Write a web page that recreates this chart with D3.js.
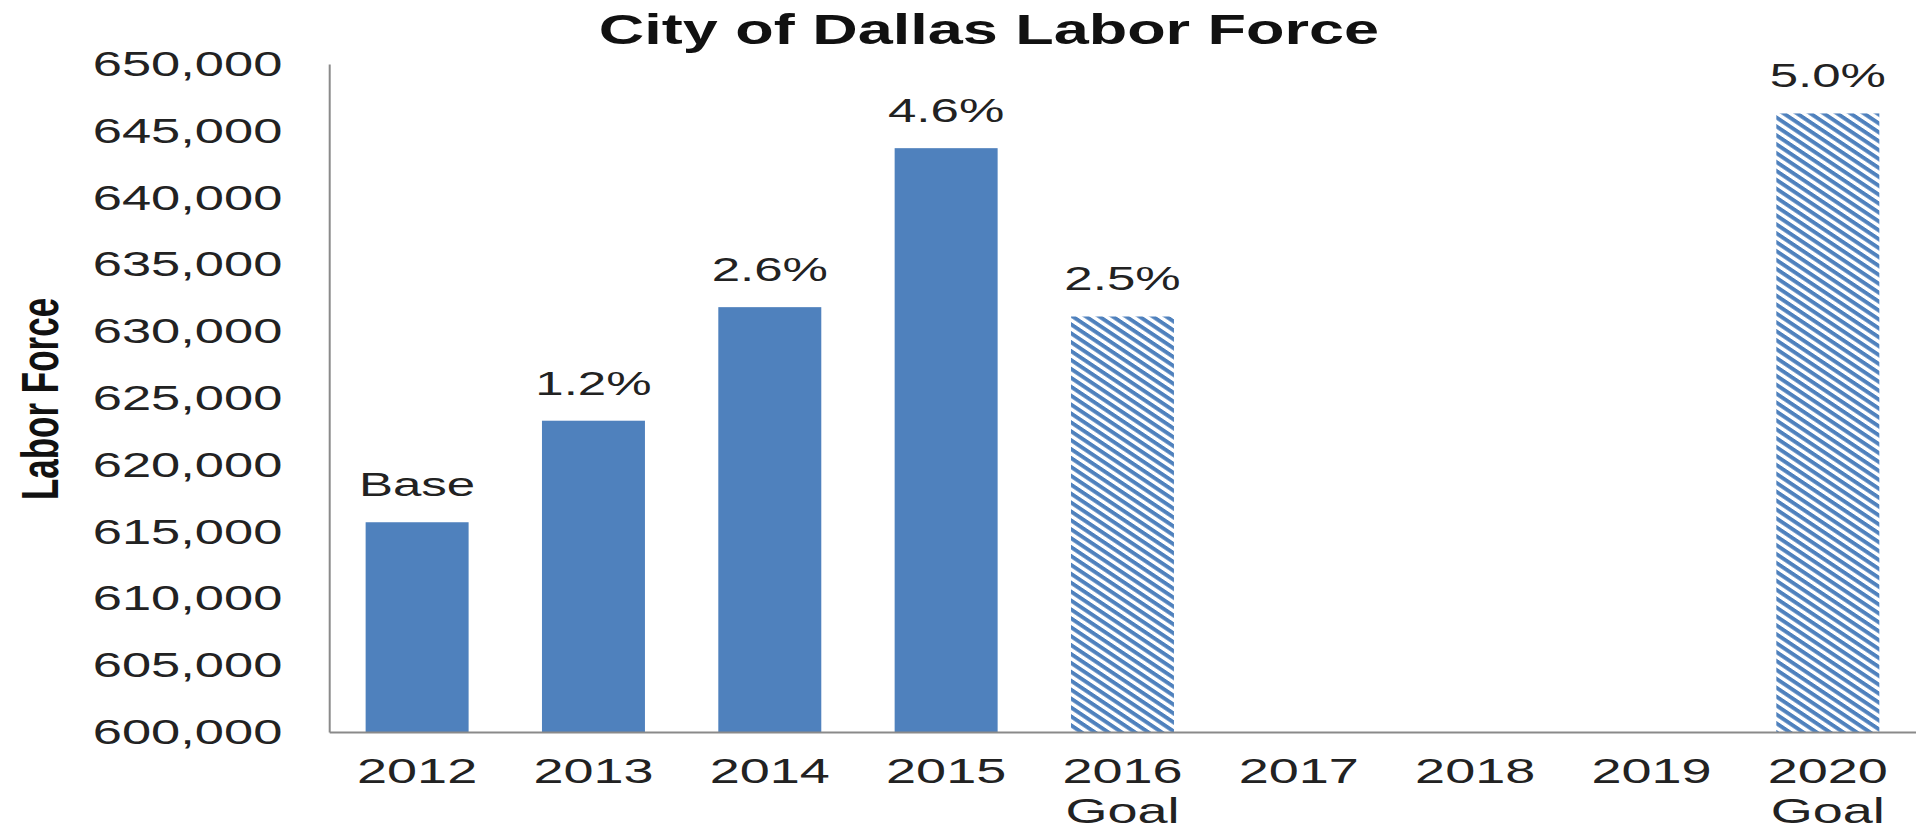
<!DOCTYPE html>
<html>
<head>
<meta charset="utf-8">
<title>City of Dallas Labor Force</title>
<script src="https://cdn.jsdelivr.net/npm/d3@7"></script>
<style>
  html, body { margin: 0; padding: 0; background: #fff; }
  svg { display: block; }
  text { font-family: 'Liberation Sans', Arial, sans-serif; fill: #222; }
</style>
</head>
<body>
<div id="chart"></div>
<script>
// chart data
const years = ['2012', '2013', '2014', '2015', '2016', '2017', '2018', '2019', '2020'];
const yearNotes = ['', '', '', '', 'Goal', '', '', '', 'Goal'];
const actualForce = [615700, 623300, 631800, 643700, null, null, null, null, null];
const goalForce = [null, null, null, null, 631100, null, null, null, 646300];
const changeLabels = ['Base', '1.2%', '2.6%', '4.6%', '2.5%', '', '', '', '5.0%'];
const yDomain = [600000, 650000];

const pageWidth = 1916;
const pageHeight = 827;
// the original picture is stretched sideways, so draw in a narrower space and stretch it
const stretch = 1.5;
const width = pageWidth / stretch;

const margin = { top: 64, right: 0, bottom: 95, left: 219.3 };
const plotBottom = pageHeight - margin.bottom;

const svg = d3.select('#chart')
  .append('svg')
  .attr('width', pageWidth)
  .attr('height', pageHeight)
  .attr('viewBox', `0 0 ${width} ${pageHeight}`)
  .attr('preserveAspectRatio', 'none');

// hatch for the goal bars
svg.append('defs')
  .append('pattern')
  .attr('id', 'goalHatch')
  .attr('patternUnits', 'userSpaceOnUse')
  .attr('width', 6.3)
  .attr('height', 6.3)
  .attr('patternTransform', 'rotate(45)')
  .call(p => {
    p.append('rect').attr('width', 6.3).attr('height', 6.3).attr('fill', '#fff');
    p.append('rect').attr('width', 6.3).attr('height', 3.3).attr('fill', '#4F81BD');
  });

const x = d3.scaleBand()
  .domain(years)
  .range([margin.left, width - margin.right])
  .paddingInner(0.416)
  .paddingOuter(0.208);

const y = d3.scaleLinear()
  .domain(yDomain)
  .range([plotBottom, margin.top]);

const rows = years.map((yr, i) => ({
  year: yr,
  note: yearNotes[i],
  actual: actualForce[i],
  goal: goalForce[i],
  label: changeLabels[i]
}));

// solid bars
svg.selectAll('.bar')
  .data(rows.filter(d => d.actual != null))
  .enter().append('rect')
  .attr('class', 'bar')
  .attr('x', d => x(d.year))
  .attr('width', x.bandwidth())
  .attr('y', d => y(d.actual))
  .attr('height', d => plotBottom - y(d.actual))
  .attr('fill', '#4F81BD');

// goal bars
svg.selectAll('.goal')
  .data(rows.filter(d => d.goal != null))
  .enter().append('rect')
  .attr('class', 'goal')
  .attr('x', d => x(d.year))
  .attr('width', x.bandwidth())
  .attr('y', d => y(d.goal))
  .attr('height', d => plotBottom - y(d.goal))
  .attr('fill', 'url(#goalHatch)');

// percent labels over the bars
svg.selectAll('.pct')
  .data(rows.filter(d => d.label))
  .enter().append('text')
  .attr('class', 'pct')
  .attr('x', d => x(d.year) + x.bandwidth() / 2)
  .attr('y', d => y(d.actual != null ? d.actual : d.goal) - 26)
  .attr('text-anchor', 'middle')
  .style('font-size', '34px')
  .text(d => d.label);

// y axis
const yAxis = svg.append('g')
  .attr('class', 'y-axis')
  .attr('transform', 'translate(' + margin.left + ',0)')
  .call(d3.axisLeft(y).ticks(10).tickSize(0).tickSizeOuter(0).tickPadding(31).tickFormat(d3.format(',')));

yAxis.attr('font-size', null).attr('font-family', null);
yAxis.selectAll('text').style('font-size', '35px').attr('dy', '0.33em');
yAxis.select('.domain')
  .attr('stroke', '#8a8a8a')
  .attr('stroke-width', 2)
  .attr('vector-effect', 'non-scaling-stroke');

// x axis
const xAxis = svg.append('g')
  .attr('class', 'x-axis')
  .attr('transform', 'translate(0,' + plotBottom + ')')
  .call(d3.axisBottom(x).tickSize(0).tickSizeOuter(0).tickPadding(25.5));

xAxis.attr('font-size', null).attr('font-family', null);
xAxis.selectAll('text').style('font-size', '36px');
xAxis.selectAll('.tick text')
  .each(function (d, i) {
    if (yearNotes[i]) {
      d3.select(this).append('tspan')
        .attr('x', 0)
        .attr('dy', '1.11em')
        .text(yearNotes[i]);
    }
  });
xAxis.select('.domain')
  .attr('stroke', '#8a8a8a')
  .attr('stroke-width', 2)
  .attr('vector-effect', 'non-scaling-stroke');

// axis title
svg.append('text')
  .attr('transform', 'translate(26.7,399) rotate(-90)')
  .attr('dy', '0.35em')
  .attr('text-anchor', 'middle')
  .style('font-size', '35px')
  .style('font-weight', 'bold')
  .style('fill', '#111')
  .text('Labor Force');

// chart title
svg.append('text')
  .attr('x', 659.3)
  .attr('y', 44)
  .attr('text-anchor', 'middle')
  .style('font-size', '42px')
  .style('font-weight', 'bold')
  .style('fill', '#111')
  .text('City of Dallas Labor Force');
</script>
</body>
</html>
